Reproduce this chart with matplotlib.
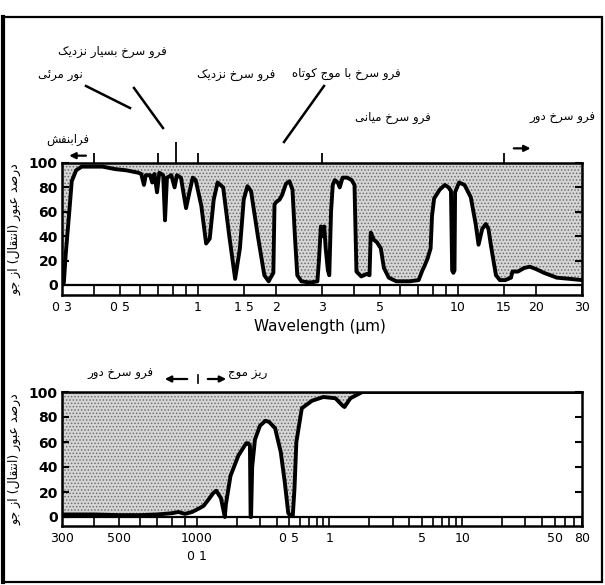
import numpy as np
import matplotlib
matplotlib.use('Agg')
import matplotlib.pyplot as plt
from matplotlib.lines import Line2D
from matplotlib.patches import Rectangle
from matplotlib.ticker import NullLocator

W, H = 605, 585

# --- top panel: atmospheric transmission, 0.3 - 30 um ---
ir_wl = [0.30, 0.305, 0.31, 0.32, 0.327, 0.34, 0.357, 0.40, 0.43, 0.48, 0.53, 0.59,
         0.605, 0.62, 0.63, 0.655, 0.667, 0.68, 0.696, 0.71, 0.735, 0.747, 0.76, 0.79,
         0.813, 0.83, 0.86, 0.90, 0.925, 0.955, 0.98, 1.03, 1.075, 1.11, 1.15, 1.19,
         1.25, 1.32, 1.39, 1.45, 1.50, 1.55, 1.60, 1.70, 1.80, 1.87, 1.95, 1.97, 2.0,
         2.06, 2.11, 2.18, 2.25, 2.31, 2.36, 2.41, 2.5, 2.7, 2.88, 2.92, 2.97, 3.02,
         3.06, 3.10, 3.16, 3.20, 3.25, 3.30, 3.36, 3.45, 3.51, 3.60, 3.75, 3.90, 4.0,
         4.07, 4.25, 4.45, 4.57, 4.62, 4.75, 4.88, 5.05, 5.19, 5.42, 5.8, 6.5, 7.06,
         7.3, 7.45, 7.65, 7.85, 7.95, 8.1, 8.5, 8.9, 9.2, 9.4, 9.5, 9.6, 9.7, 9.75,
         10.1, 10.6, 11.2, 11.7, 12.0, 12.4, 12.8, 13.1, 13.4, 14.0, 14.5, 15.2, 16.0,
         16.2, 17.0, 18.0, 18.9, 20.0, 21.4, 24.0, 27.0, 30.0]
ir_tr = [0, 2, 25, 60, 85, 94, 97, 97, 97, 95, 94, 92,
         91, 82, 90, 90, 84, 91, 76, 92, 90, 53, 88, 90,
         80, 90, 88, 63, 75, 88, 86, 65, 34, 38, 70, 84,
         80, 40, 5, 30, 70, 81, 77, 40, 8, 3, 10, 66, 68,
         70, 74, 83, 85, 78, 40, 8, 3, 2, 3, 20, 48, 40,
         48, 30, 12, 8, 60, 82, 86, 84, 80, 88, 88, 86, 82,
         11, 7, 9, 8, 43, 37, 35, 30, 14, 6, 3, 3, 4,
         12, 16, 22, 30, 57, 71, 78, 82, 80, 77, 12, 10, 12, 76,
         84, 82, 72, 50, 33, 46, 50, 46, 32, 8, 4, 4, 6,
         11, 11, 14, 15, 13, 10, 6, 5, 4]
ir_strip = [0.3, 0.4, 0.5, 0.6, 0.7, 0.8, 0.9, 1, 1.5, 2, 3, 4, 5, 6, 7, 8, 9, 10, 15, 20, 30]
ir_ticks = [0.3, 0.5, 1, 1.5, 2, 3, 5, 10, 15, 20, 30]
ir_labels = ['0 3', '0 5', '1', '1 5', '2', '3', '5', '10', '15', '20', '30']
ir_short_marks = [0.4, 0.7, 1.0, 3.0, 15.0]
ir_tall_marks = [0.82]

# --- bottom panel: microwave region, wavelength in cm (300 um .. 80 cm) ---
mw_wl = [0.03, 0.04, 0.05, 0.06, 0.07, 0.08, 0.085, 0.09, 0.096, 0.105, 0.113, 0.125,
         0.133, 0.1405, 0.1525, 0.163, 0.166, 0.18, 0.206, 0.236, 0.245, 0.252, 0.255,
         0.257, 0.262, 0.275, 0.30, 0.33, 0.352, 0.39, 0.43, 0.461, 0.49, 0.51, 0.53,
         0.546, 0.564, 0.62, 0.74, 0.90, 1.11, 1.26, 1.30, 1.44, 1.77, 80]
mw_tr = [2, 2, 1.5, 1.5, 2, 3, 4, 2.5, 4, 7, 9, 15,
         19, 21, 15, 0, 10, 33, 49, 59, 59, 57, 0,
         0, 40, 62, 73, 77, 76, 71, 52, 28, 3, 1, 1,
         23, 60, 87, 93, 96, 95, 89, 88, 95, 100, 100]
mw_strip = [0.03, 0.04, 0.05, 0.06, 0.07, 0.08, 0.09, 0.1, 0.2, 0.3, 0.4, 0.5, 0.6, 0.7,
            0.8, 0.9, 1, 2, 3, 4, 5, 6, 7, 8, 9, 10, 20, 30, 40, 50, 60, 70, 80]
mw_ticks = [0.03, 0.05, 0.1, 0.5, 1, 5, 10, 50, 80]
mw_labels = ['300', '500', '1000\n0 1', '0 5', '1', '5', '10', '50', '80']

y_ticks = [0, 20, 40, 60, 80, 100]
y_label = 'درصد عبور (انتقال) از جو'
bands_top = [('فرو سرخ بسیار نزدیک', 112, 52), ('نور مرئی', 60, 76),
             ('فرو سرخ نزدیک', 236, 76), ('فرو سرخ با موج کوتاه', 346, 74),
             ('فرو سرخ میانی', 393, 118), ('فرو سرخ دور', 562, 118),
             ('فرابنفش', 68, 139)]
bands_bottom = [('فرو سرخ دور', 120, 373), ('ریز موج', 248, 373)]

# Persian shaping (matplotlib has no complex text layout)
FORMS = {
    'ا': (0xFE8D, 0xFE8E, None, None), 'ب': (0xFE8F, 0xFE90, 0xFE91, 0xFE92),
    'ت': (0xFE95, 0xFE96, 0xFE97, 0xFE98), 'ج': (0xFE9D, 0xFE9E, 0xFE9F, 0xFEA0),
    'خ': (0xFEA5, 0xFEA6, 0xFEA7, 0xFEA8), 'د': (0xFEA9, 0xFEAA, None, None),
    'ر': (0xFEAD, 0xFEAE, None, None), 'ز': (0xFEAF, 0xFEB0, None, None),
    'س': (0xFEB1, 0xFEB2, 0xFEB3, 0xFEB4), 'ش': (0xFEB5, 0xFEB6, 0xFEB7, 0xFEB8),
    'ص': (0xFEB9, 0xFEBA, 0xFEBB, 0xFEBC), 'ع': (0xFEC9, 0xFECA, 0xFECB, 0xFECC),
    'ف': (0xFED1, 0xFED2, 0xFED3, 0xFED4), 'ق': (0xFED5, 0xFED6, 0xFED7, 0xFED8),
    'ل': (0xFEDD, 0xFEDE, 0xFEDF, 0xFEE0), 'م': (0xFEE1, 0xFEE2, 0xFEE3, 0xFEE4),
    'ن': (0xFEE5, 0xFEE6, 0xFEE7, 0xFEE8), 'ه': (0xFEE9, 0xFEEA, 0xFEEB, 0xFEEC),
    'و': (0xFEED, 0xFEEE, None, None), 'ئ': (0xFE89, 0xFE8A, 0xFE8B, 0xFE8C),
    'ک': (0xFB8E, 0xFB8F, 0xFB90, 0xFB91), 'ی': (0xFBFC, 0xFBFD, 0xFBFE, 0xFBFF),
}


def shape(text):
    out = []
    for i, c in enumerate(text):
        if c not in FORMS:
            out.append(c)
            continue
        iso, fin, ini, med = FORMS[c]
        prev = text[i - 1] if i > 0 else ''
        nxt = text[i + 1] if i + 1 < len(text) else ''
        jp = prev in FORMS and FORMS[prev][2] is not None
        jn = ini is not None and nxt in FORMS
        code = med if (jp and jn) else fin if jp else ini if jn else iso
        out.append(chr(code))
    return ''.join(out)[::-1].translate(str.maketrans('()', ')('))


def at(x, y):
    return x / W, 1 - y / H


def line(x1, y1, x2, y2, lw=1.8):
    fig.add_artist(Line2D([x1 / W, x2 / W], [1 - y1 / H, 1 - y2 / H], color='k', lw=lw))


plt.rcParams['hatch.linewidth'] = 0.7
fig = plt.figure(figsize=(W / 100, H / 100), dpi=100)
fig.patch.set_facecolor('white')


def fwd(x):
    u = np.log10(np.clip(np.asarray(x, float), 1e-9, None) / 0.1)
    return np.where(u < 0, u * 1.94, u)


def inv(u):
    u = np.asarray(u, float)
    return 0.1 * 10 ** np.where(u < 0, u / 1.94, u)


ax1 = fig.add_axes([62 / W, (H - 295) / H, 520 / W, 132 / H])
ax2 = fig.add_axes([62 / W, (H - 526) / H, 520 / W, 134 / H])
ax1.set_xscale('log')
ax2.set_xscale('function', functions=(fwd, inv))

panels = [(ax1, ir_wl, ir_tr, ir_strip, ir_ticks, ir_labels, (0.3, 30), -8.2),
          (ax2, mw_wl, mw_tr, mw_strip, mw_ticks, mw_labels, (0.03, 80), -7.2)]
for ax, wl, tr, strip, ticks, labels, xlim, ybot in panels:
    ax.fill_between(wl, tr, 100, facecolor='#d6d6d6', edgecolor='#6e6e6e',
                    hatch='.....', linewidth=0)
    ax.plot(wl, tr, color='k', lw=2.8, solid_joinstyle='round')
    ax.axhline(0, color='k', lw=1.6)
    ax.vlines(strip, ybot, 0, color='k', lw=1.2)
    ax.set_xlim(*xlim)
    ax.set_ylim(ybot, 100)
    ax.set_yticks(y_ticks)
    ax.set_xticks(ticks, labels)
    ax.xaxis.set_minor_locator(NullLocator())
    ax.tick_params(axis='x', length=0, pad=4, labelsize=9)
    ax.tick_params(axis='y', direction='in', length=5, width=1.5, right=True,
                   labelsize=10, pad=3)
    for lab in ax.get_yticklabels():
        lab.set_fontweight('bold')
    for lab in ax.get_xticklabels():
        lab.set_linespacing(1.5)
    for s in ax.spines.values():
        s.set_linewidth(1.8)
    ax.set_ylabel(shape(y_label), fontsize=9)
    ax.yaxis.set_label_coords(-0.077, 0.5)

# region marks above the top panel
ax1.vlines(ir_short_marks, 100, 108, color='k', lw=1.3, clip_on=False)
ax1.vlines(ir_tall_marks, 100, 117, color='k', lw=1.3, clip_on=False)
arrow = dict(arrowstyle='-|>', color='k', lw=1.6, mutation_scale=9)
ax1.annotate('', xy=(0.312, 106), xytext=(0.38, 106), arrowprops=arrow, annotation_clip=False)
ax1.annotate('', xy=(19.5, 112), xytext=(16.0, 112), arrowprops=arrow, annotation_clip=False)

for txt, x, y in bands_top:
    fig.text(*at(x, y), shape(txt), ha='center', va='center', fontsize=8.5)
line(86, 86, 130, 108)
line(134, 88, 163, 128)
line(324, 86, 284, 142)

for txt, x, y in bands_bottom:
    fig.text(*at(x, y), shape(txt), ha='center', va='center', fontsize=8.5)
fig.add_artist(plt.Annotation('', xy=at(162, 379), xytext=at(190, 379), xycoords='figure fraction',
                              textcoords='figure fraction', arrowprops=arrow))
fig.add_artist(plt.Annotation('', xy=at(229, 379), xytext=at(205, 379), xycoords='figure fraction',
                              textcoords='figure fraction', arrowprops=arrow))
line(198, 375, 198, 383, lw=1.2)

fig.text(*at(320, 327), 'Wavelength (μm)', ha='center', va='center', fontsize=11)

fig.add_artist(Rectangle((3 / W, 3 / H), 599 / W, 565 / H, transform=fig.transFigure,
                         fill=False, edgecolor='k', lw=1.6))
line(3, 17, 3, 582, lw=3)

fig.savefig('out.png', dpi=100)
